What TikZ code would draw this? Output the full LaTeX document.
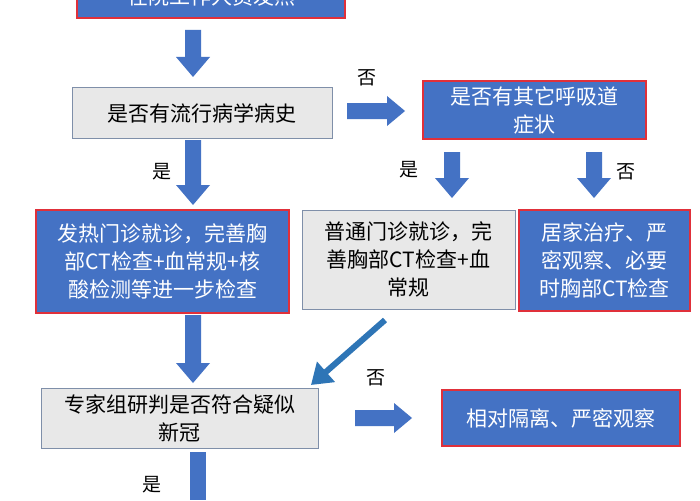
\documentclass[tikz,border=0pt]{standalone}
\usepackage{fontspec}
\usetikzlibrary{arrows.meta}
\setmainfont{Noto Sans CJK SC}
\definecolor{bl}{HTML}{4472C4}
\definecolor{gr}{HTML}{E8E8E8}
\definecolor{gb}{HTML}{7F8FA9}
\definecolor{rd}{HTML}{E0303A}
\definecolor{ab}{HTML}{2E75B6}
\begin{document}
\begin{tikzpicture}[x=1pt,y=-1pt,
  bbox/.style={draw=rd,line width=1.2pt,fill=bl,text=white,font=\fontsize{21}{28}\selectfont,align=center,inner sep=0pt},
  gbox/.style={draw=gb,line width=1pt,fill=gr,text=black,font=\fontsize{21}{28}\selectfont,align=center,inner sep=0pt},
  lab/.style={font=\fontsize{19}{20}\selectfont}]
\useasboundingbox (0,0) rectangle (700,500);
\clip (0,0) rectangle (700,500);
\fill[white] (0,0) rectangle (700,500);
\newcommand\downarr[3]{\fill[bl] (#1-8,#2) -- (#1+8,#2) -- (#1+8,#3-20) -- (#1+17,#3-20) -- (#1,#3) -- (#1-17,#3-20) -- (#1-8,#3-20) -- cycle;}
\newcommand\rightarr[3]{\fill[bl] (#1,#3-8) -- (#2-18,#3-8) -- (#2-18,#3-15) -- (#2,#3) -- (#2-18,#3+15) -- (#2-18,#3+8) -- (#1,#3+8) -- cycle;}
\node[bbox,minimum width=268pt,minimum height=44pt] (top) at (211,-4) {在院工作人员发热};
\node[gbox,minimum width=260pt,minimum height=50pt] (b1) at (202,113) {是否有流行病学病史};
\node[bbox,minimum width=223pt,minimum height=58pt] (b2) at (534.5,110) {是否有其它呼吸道\\症状};
\node[bbox,minimum width=253pt,minimum height=103pt] (b3) at (162.5,261.5) {发热门诊就诊，完善胸\\部CT检查+血常规+核\\酸检测等进一步检查};
\node[gbox,minimum width=213pt,minimum height=99pt] (b4) at (408.5,259.5) {普通门诊就诊，完\\善胸部CT检查+血\\常规};
\node[bbox,minimum width=171pt,minimum height=101pt] (b5) at (604.5,260.5) {居家治疗、严\\密观察、必要\\时胸部CT检查};
\node[gbox,minimum width=277pt,minimum height=60pt] (b6) at (179.5,418) {专家组研判是否符合疑似\\新冠};
\node[bbox,minimum width=238pt,minimum height=56pt] (b7) at (561,418) {相对隔离、严密观察};
\downarr{193}{30}{77}
\rightarr{347}{405}{111}
\downarr{193}{140}{205}
\downarr{452}{152}{198}
\downarr{594}{152}{198}
\downarr{193}{315}{383}
\rightarr{355}{412}{418}
\fill[bl] (190,452) rectangle (206,500);
\coordinate (d1) at (385,320);
\coordinate (d2) at (311,385);
\draw[ab,line width=6pt,-{Triangle[length=20pt,width=26pt]}] (d1) -- (d2);
\node[lab] (l1) at (367,78) {否};
\node[lab] (l2) at (162,172) {是};
\node[lab] (l3) at (409,170) {是};
\node[lab] (l4) at (626,172) {否};
\node[lab] (l5) at (376,378) {否};
\node[lab] (l6) at (152,485) {是};
\end{tikzpicture}
\end{document}
